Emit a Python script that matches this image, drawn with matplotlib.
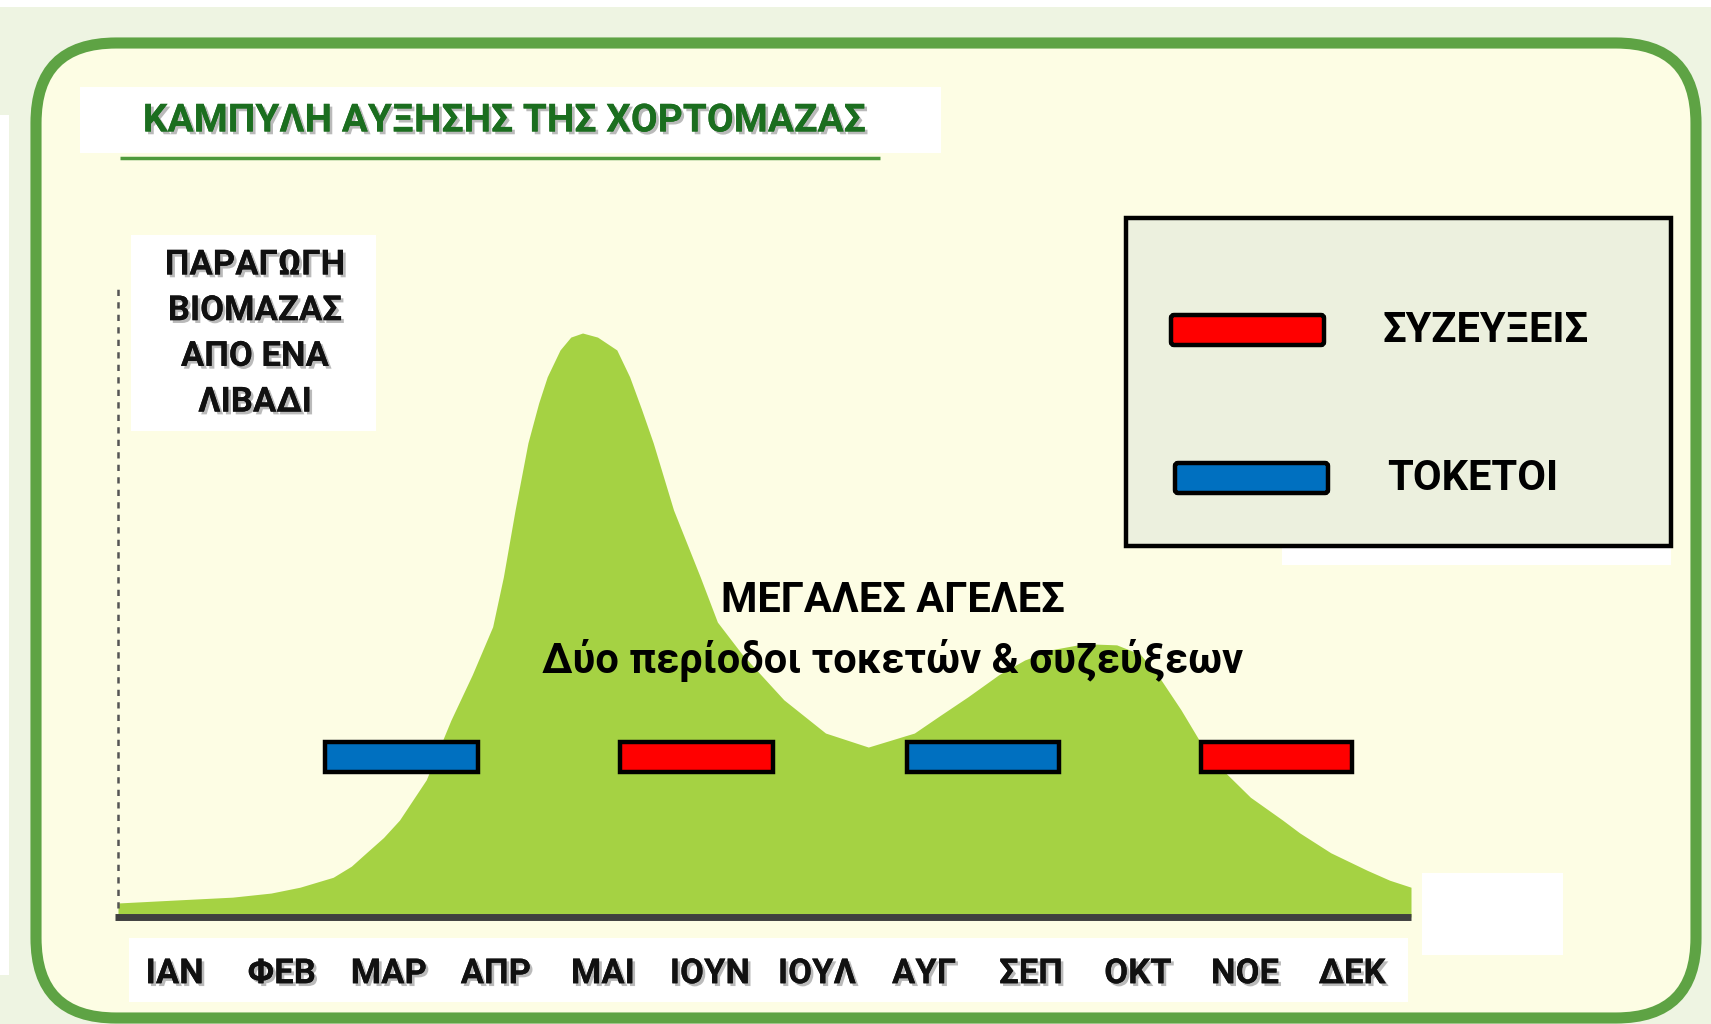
import matplotlib
matplotlib.use("Agg")
import matplotlib.pyplot as plt
import matplotlib.patheffects as pe
from matplotlib.patches import Rectangle, FancyBboxPatch

plt.rcParams['font.family'] = ['Roboto', 'DejaVu Sans']

# Δεδομένα
months = ['ΙΑΝ', 'ΦΕΒ', 'ΜΑΡ', 'ΑΠΡ', 'ΜΑΙ', 'ΙΟΥΝ', 'ΙΟΥΛ', 'ΑΥΓ', 'ΣΕΠ', 'ΟΚΤ', 'ΝΟΕ', 'ΔΕΚ']

# καμπύλη βιομάζας (θέση σε μήνες, 0 = ΙΑΝ) και σχετική παραγωγή (κορυφή = 100)
curve_x = [-0.53, 0.00, 0.54, 0.90, 1.17, 1.48, 1.65, 1.79, 1.95, 2.10, 2.35, 2.58,
           2.78, 2.97, 3.07, 3.18, 3.30, 3.40, 3.48, 3.60, 3.70, 3.81, 3.95, 4.13,
           4.25, 4.36, 4.47, 4.66, 4.91, 5.07, 5.30, 5.69, 6.08, 6.48, 6.91, 7.15,
           7.41, 7.70, 7.94, 8.20, 8.50, 8.80, 9.02, 9.20, 9.40, 9.58, 9.80, 10.05,
           10.35, 10.51, 10.80, 11.14, 11.35, 11.55]
curve_y = [2.4, 2.9, 3.4, 4.1, 5.1, 6.8, 8.7, 11.0, 13.6, 16.6, 23.5, 33.7,
           41.5, 49.7, 58.2, 69.7, 81.2, 88.0, 92.5, 97.1, 99.3, 100.0, 99.3, 97.1,
           92.5, 87.0, 81.2, 69.7, 58.2, 50.5, 45.0, 37.2, 31.5, 29.1, 31.5, 34.5,
           37.7, 41.5, 44.0, 45.8, 46.8, 46.6, 45.0, 41.0, 35.5, 30.0, 25.0, 20.5,
           16.6, 14.4, 11.0, 8.0, 6.3, 5.1]

# περίοδοι τοκετών / συζεύξεων (σε μήνες)
period_start = [1.40, 4.16, 6.84, 9.59]
period_end = [2.83, 5.59, 8.26, 11.00]
period_kind = ['ΤΟΚΕΤΟΙ', 'ΣΥΖΕΥΞΕΙΣ', 'ΤΟΚΕΤΟΙ', 'ΣΥΖΕΥΞΕΙΣ']
kind_colors = {'ΣΥΖΕΥΞΕΙΣ': '#ff0000', 'ΤΟΚΕΤΟΙ': '#0070c0'}
period_level = 27.4

title = 'ΚΑΜΠΥΛΗ ΑΥΞΗΣΗΣ ΤΗΣ ΧΟΡΤΟΜΑΖΑΣ'
ylabel_lines = ['ΠΑΡΑΓΩΓΗ', 'ΒΙΟΜΑΖΑΣ', 'ΑΠΟ ΕΝΑ', 'ΛΙΒΑΔΙ']
note_lines = ['ΜΕΓΑΛΕΣ ΑΓΕΛΕΣ', 'Δύο περίοδοι τοκετών & συζεύξεων']

W, H = 1711, 1024
fig = plt.figure(figsize=(W / 100, H / 100), dpi=100)
fig.patch.set_facecolor('#eef4e2')

# φόντο σε συντεταγμένες pixel
bg = fig.add_axes([0, 0, 1, 1])
bg.set_xlim(0, W)
bg.set_ylim(H, 0)
bg.set_axis_off()

bg.add_patch(Rectangle((0, 0), W, 7, color='white', lw=0))
bg.add_patch(Rectangle((0, 115), 9, 860, color='white', lw=0))

frame = FancyBboxPatch((36, 43), 1660, 975,
                       boxstyle='round,pad=0,rounding_size=80',
                       facecolor='#fdfde4', edgecolor='#5ea344', lw=8)
bg.add_patch(frame)

shadow = [pe.withSimplePatchShadow(offset=(2, -2), shadow_rgbFace='#777777', alpha=0.5),
          pe.Normal()]

# τίτλος
bg.add_patch(Rectangle((80, 87), 861, 66, color='white', lw=0))
bg.text(504, 121, title, ha='center', va='center', fontsize=28, fontweight='bold',
        color='#1b6e1f', path_effects=shadow)
bg.plot([120, 880], [158, 158], color='#4e9a3c', lw=2.5, solid_capstyle='butt')

# ετικέτα άξονα y
bg.add_patch(Rectangle((131, 235), 245, 196, color='white', lw=0))
for i, line in enumerate(ylabel_lines):
    bg.text(255, 265 + i * 45.7, line, ha='center', va='center', fontsize=25,
            fontweight='bold', color='#111111', path_effects=shadow)

# λευκά κουτιά
bg.add_patch(Rectangle((129, 938), 1279, 64, color='white', lw=0))
bg.add_patch(Rectangle((1422, 873), 141, 82, color='white', lw=0))
bg.add_patch(Rectangle((1282, 546), 389, 19, color='white', lw=0))

# υπόμνημα
bg.add_patch(Rectangle((1126, 218), 545, 328, facecolor='#ecf0de',
                       edgecolor='black', lw=3.2))
leg_y = {'ΣΥΖΕΥΞΕΙΣ': 330, 'ΤΟΚΕΤΟΙ': 478}
leg_x = {'ΣΥΖΕΥΞΕΙΣ': 1171, 'ΤΟΚΕΤΟΙ': 1175}
for kind in ['ΣΥΖΕΥΞΕΙΣ', 'ΤΟΚΕΤΟΙ']:
    bg.add_patch(FancyBboxPatch((leg_x[kind], leg_y[kind] - 15), 153, 30,
                                boxstyle='round,pad=0,rounding_size=3',
                                facecolor=kind_colors[kind], edgecolor='black', lw=3.2))
    bg.text(leg_x[kind] + 212, leg_y[kind], kind, ha='left', va='center',
            fontsize=30, fontweight='bold', color='black')

# άξονας δεδομένων
x0, x1, ybase, ytop = 118, 1411, 917, 289
ax = fig.add_axes([x0 / W, (H - ybase) / H, (x1 - x0) / W, (ybase - ytop) / H])
ax.patch.set_alpha(0)
ax.set_xlim(-0.53, 11.55)
ax.set_ylim(0, (ybase - ytop) / 5.84)
for s in ax.spines.values():
    s.set_visible(False)

ax.fill_between(curve_x, 0, curve_y, color='#a5d243', lw=0)
ax.plot([-0.56, 11.55], [0, 0], color='#3f3f3f', lw=5, solid_capstyle='butt',
        clip_on=False)
ax.plot([-0.53, -0.53], [1.5, (ybase - ytop) / 5.84], color='#555555', lw=1.8,
        linestyle=(0, (2.5, 2.5)), clip_on=False)

for s, e, k in zip(period_start, period_end, period_kind):
    ax.bar((s + e) / 2, 5.2, width=e - s, bottom=period_level - 2.6,
           color=kind_colors[k], edgecolor='black', lw=3.2, zorder=3)

ax.set_xticks(range(len(months)))
ax.set_xticklabels(months, fontsize=25, fontweight='bold', color='#111111')
for t in ax.get_xticklabels():
    t.set_path_effects(shadow)
ax.tick_params(axis='x', length=0, pad=29)
ax.set_yticks([])

# σημείωση
fig.text(893 / W, 1 - 601 / H, note_lines[0], ha='center', va='center',
         fontsize=30, fontweight='bold', color='black')
fig.text(893 / W, 1 - 660 / H, note_lines[1], ha='center', va='center',
         fontsize=30, fontweight='bold', color='black')

fig.savefig('out.png', dpi=100, facecolor=fig.get_facecolor())
